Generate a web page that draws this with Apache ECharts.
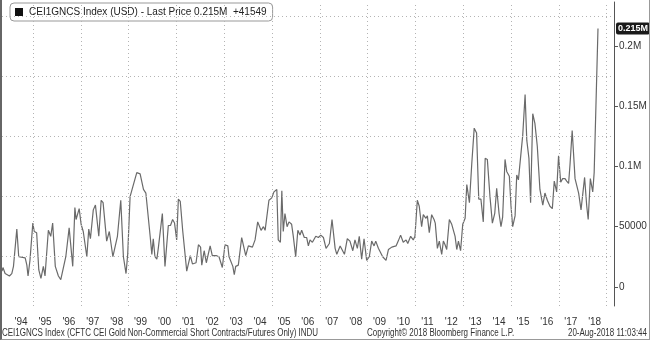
<!DOCTYPE html>
<html>
<head>
<meta charset="utf-8">
<script src="https://cdn.jsdelivr.net/npm/echarts@6/dist/echarts.min.js"></script>
<style>
html,body{margin:0;padding:0;background:#fff;}
#wrap{position:relative;width:650px;height:340px;}
#chart{width:650px;height:340px;}
#frame{position:absolute;left:0;top:0;width:650px;height:340px;box-sizing:border-box;border-left:2px solid #666;border-right:1px solid #999;border-bottom:1px solid #999;pointer-events:none;}
</style>
</head>
<body>
<div id="wrap"><div id="chart"></div><div id="frame"></div></div>
<script>
// Decimal-year dates and values (short contracts)
const dates = [
1993.70,1993.74,1993.83,1994.01,1994.11,1994.18,1994.26,1994.32,1994.40,1994.46,
1994.67,1994.74,1994.79,1994.87,1994.99,1995.05,1995.15,1995.24,1995.33,1995.43,
1995.50,1995.64,1995.74,1995.82,1995.93,1996.06,1996.16,1996.24,1996.37,1996.51,
1996.66,1996.75,1996.80,1996.93,1997.01,1997.10,1997.25,1997.33,1997.40,1997.52,
1997.61,1997.75,1997.85,1997.93,1998.08,1998.19,1998.34,1998.53,1998.67,1998.78,
1998.89,1998.96,1999.06,1999.17,1999.34,1999.48,1999.62,1999.72,1999.90,1999.97,
2000.03,2000.10,2000.18,2000.24,2000.41,2000.52,2000.66,2000.75,2000.84,2000.92,
2001.01,2001.08,2001.16,2001.26,2001.33,2001.43,2001.58,2001.67,2001.82,2001.92,
2002.01,2002.06,2002.16,2002.25,2002.41,2002.50,2002.66,2002.78,2002.92,2003.03,
2003.15,2003.20,2003.28,2003.36,2003.42,2003.48,2003.59,2003.73,2003.90,2004.01,
2004.18,2004.29,2004.40,2004.54,2004.64,2004.71,2004.87,2004.99,2005.08,2005.20,
2005.26,2005.35,2005.41,2005.47,2005.54,2005.63,2005.71,2005.82,2005.89,2005.99,
2006.08,2006.17,2006.24,2006.35,2006.45,2006.52,2006.59,2006.69,2006.83,2006.94,
2007.04,2007.15,2007.26,2007.40,2007.51,2007.64,2007.71,2007.85,2008.03,2008.15,
2008.26,2008.38,2008.47,2008.57,2008.65,2008.75,2008.85,2008.96,2009.07,2009.17,
2009.27,2009.34,2009.45,2009.63,2009.77,2009.87,2010.01,2010.19,2010.28,2010.38,
2010.49,2010.61,2010.68,2010.80,2010.91,2010.98,2011.08,2011.16,2011.26,2011.33,
2011.44,2011.50,2011.58,2011.68,2011.78,2011.83,2011.92,2012.00,2012.10,2012.17,
2012.24,2012.31,2012.42,2012.52,2012.66,2012.73,2012.80,2012.89,2012.98,2013.08,
2013.15,2013.26,2013.36,2013.46,2013.56,2013.65,2013.74,2013.84,2013.92,2014.01,
2014.12,2014.22,2014.32,2014.40,2014.50,2014.58,2014.65,2014.75,2014.82,2014.93,
2015.00,2015.07,2015.17,2015.24,2015.31,2015.38,2015.49,2015.59,2015.66,2015.75,
2015.82,2015.91,2016.00,2016.10,2016.21,2016.33,2016.42,2016.52,2016.63,2016.73,
2016.81,2016.91,2016.99,2017.08,2017.16,2017.26,2017.33,2017.41,2017.47,2017.56,
2017.68,2017.75,2017.83,2017.93,2018.00,2018.08,2018.17,2018.23,2018.32,2018.42,
2018.48,2018.64
];
const values = [
13000,16000,11000,9000,11000,17000,17000,48000,25000,24000,
24000,18000,9000,22000,53000,46000,45000,14000,7000,17000,
9000,47000,42000,53000,17000,9000,6000,7000,25000,49000,
17000,66000,56000,65000,52000,46000,25000,48000,40000,64000,
68000,42000,72000,70000,38000,46000,25000,42000,72000,25000,
11000,27000,75000,83000,95000,94000,81000,78000,42000,27000,
40000,25000,23000,32000,61000,17000,51000,51000,56000,53000,
39000,73000,71000,47000,47000,13000,26000,19000,20000,35000,
33000,18000,30000,20000,34000,26000,26000,25000,16000,35000,
34000,25000,25000,17000,10000,17000,18000,41000,26000,34000,
33000,39000,54000,47000,50000,47000,72000,74000,79000,81000,
39000,37000,80000,46000,61000,50000,54000,52000,42000,25000,
47000,43000,47000,41000,41000,34000,39000,37000,42000,41000,
43000,41000,32000,36000,56000,32000,27000,34000,27000,40000,
38000,30000,39000,32000,42000,23000,40000,22000,25000,38000,
34000,38000,32000,25000,22000,31000,33000,34000,38000,43000,
37000,39000,36000,42000,39000,42000,72000,67000,50000,60000,
57000,59000,45000,60000,56000,53000,32000,38000,27000,38000,
35000,31000,56000,52000,42000,31000,38000,30000,52000,57000,
85000,70000,103000,132000,128000,73000,73000,54000,107000,106000,
75000,53000,61000,82000,61000,50000,58000,106000,96000,92000,
67000,50000,59000,93000,89000,89000,126000,160000,122000,107000,
70000,144000,136000,117000,81000,68000,78000,72000,67000,65000,
88000,79000,109000,87000,90000,90000,88000,86000,102000,130000,
90000,90000,78000,64000,65000,91000,67000,56000,90000,79000,
95000,215000
];
const yearLabels = ["'94","'95","'96","'97","'98","'99","'00","'01","'02","'03","'04","'05","'06","'07","'08","'09","'10","'11","'12","'13","'14","'15","'16","'17","'18"];
const yearLabelPos = [1994.5,1995.5,1996.5,1997.5,1998.5,1999.5,2000.5,2001.5,2002.5,2003.5,2004.5,2005.5,2006.5,2007.5,2008.5,2009.5,2010.5,2011.5,2012.5,2013.5,2014.5,2015.5,2016.5,2017.5,2018.5];
const xGridYears = [1995,1997,1999,2001,2003,2005,2007,2009,2011,2013,2015,2017,2019];
const yTicks = [0,50000,100000,150000,200000];
const yGridVals = [25000,75000,125000,175000,225000];
const lastPriceText = '0.215M';
const legendText = 'CEI1GNCS Index (USD) - Last Price 0.215M  +41549';
const footerLeft = 'CEI1GNCS Index (CFTC CEI Gold Non-Commercial Short Contracts/Futures Only) INDU';
const footerMid = 'Copyright\u00A9 2018 Bloomberg Finance L.P.';
const footerRight = '20-Aug-2018 11:03:44';

const FONT = 'Liberation Sans';
const chart = echarts.init(document.getElementById('chart'), null, {renderer:'canvas'});
const seriesData = dates.map((d,i)=>[d, values[i]]);
const gridStyle = {color:'#b4b4b4', type:[1,3], width:1};

chart.setOption({
  animation:false,
  backgroundColor:'#fff',
  textStyle:{fontFamily:FONT},
  grid:{left:2, right:36, top:2, bottom:34, containLabel:false},
  legend:{
    left:10, top:3, padding:[4,6,4,5], itemWidth:8, itemHeight:8, itemGap:4,
    backgroundColor:'#fff', borderColor:'#999', borderWidth:1, borderRadius:4,
    selectedMode:false,
    data:[{name:'CEI1GNCS', icon:'rect', itemStyle:{color:'#111'}}],
    formatter:()=>legendText,
    textStyle:{fontFamily:FONT, fontSize:10, color:'#222', padding:[0,0,0,1]}
  },
  xAxis:{
    type:'value', min:1993.70, max:2019.31,
    axisLine:{show:false}, axisTick:{show:false}, splitLine:{show:false},
    axisLabel:{customValues:yearLabelPos, margin:11, fontSize:10, color:'#333', fontFamily:FONT,
      formatter:(v)=>{const i=yearLabelPos.indexOf(v); return i>=0?yearLabels[i]:'';}}
  },
  yAxis:{
    type:'value', position:'right', min:-16000, max:237000,
    axisLine:{show:true, lineStyle:{color:'#555', width:1}},
    axisTick:{show:true, customValues:yTicks, length:4, lineStyle:{color:'#555'}},
    splitLine:{show:false},
    axisLabel:{customValues:yTicks, margin:5, fontSize:10, color:'#333', fontFamily:FONT,
      formatter:(v)=> v>=100000 ? (v/1000000)+'M' : String(v)}
  },
  series:[
    {
      type:'line', name:'grid', data:[], z:1, silent:true,
      markLine:{
        silent:true, symbol:['none','none'], label:{show:false}, animation:false,
        lineStyle:gridStyle,
        data: xGridYears.map(v=>({xAxis:v})).concat(yGridVals.map(v=>({yAxis:v})))
      }
    },
    {
      type:'line', name:'CEI1GNCS', data:seriesData, z:3,
      showSymbol:false, symbol:'none',
      lineStyle:{color:'#6a6a6a', width:1.2},
      itemStyle:{color:'#6a6a6a'},
      markLine:{
        silent:true, symbol:['none','none'], animation:false,
        lineStyle:{color:'rgba(255,255,255,0)', width:0},
        label:{show:true, position:'end', distance:2, formatter:lastPriceText,
          color:'#fff', backgroundColor:'#1a1a1a', padding:[2,2,1,2], borderRadius:2,
          fontSize:9, fontWeight:'bold', fontFamily:FONT},
        data:[{yAxis:values[values.length-1]}]
      }
    }
  ],
  graphic:[
    {type:'text', x:2, y:333, scaleX:0.8, style:{text:footerLeft, font:'10px '+FONT, fill:'#333', textAlign:'left', textVerticalAlign:'middle'}},
    {type:'text', x:367, y:333, scaleX:0.8, style:{text:footerMid, font:'10px '+FONT, fill:'#333', textAlign:'left', textVerticalAlign:'middle'}},
    {type:'text', x:647, y:333, scaleX:0.8, style:{text:footerRight, font:'10px '+FONT, fill:'#333', textAlign:'right', textVerticalAlign:'middle'}}
  ]
});
</script>
</body>
</html>
